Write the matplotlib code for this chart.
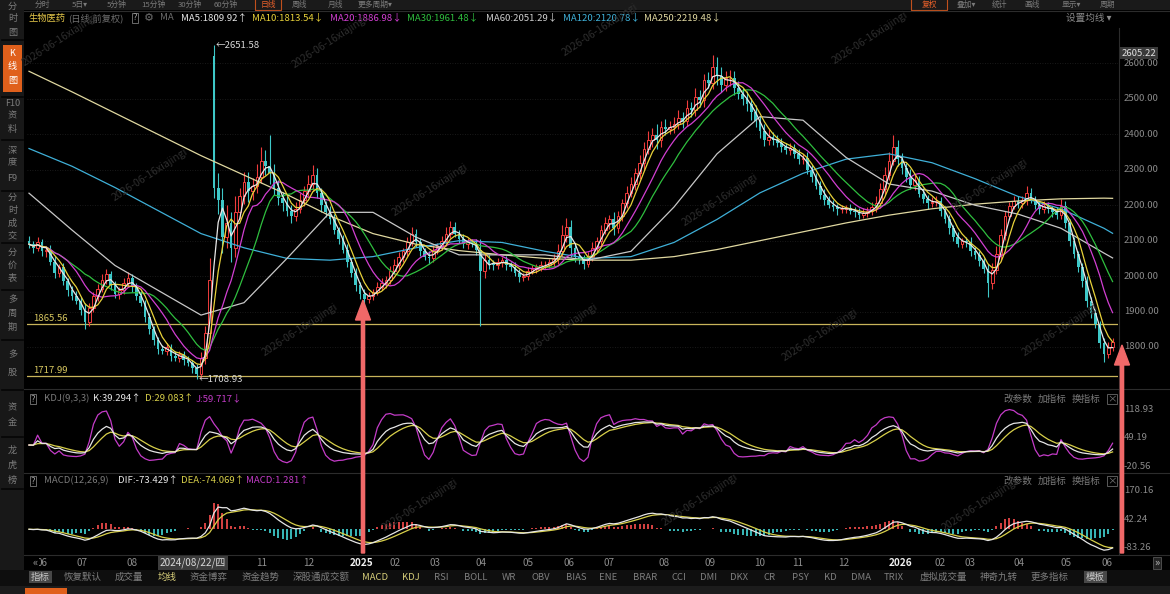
"""Daily K-line chart of the 生物医药 index, dark trading-terminal look.

Price bars, moving averages, KDJ and MACD panes, plus the terminal chrome
(side buttons, toolbar, indicator tabs). Saved as out.png (1170x594).
"""
import numpy as np
import pandas as pd
import matplotlib
matplotlib.use("Agg")
import matplotlib.pyplot as plt
import matplotlib.patches as mpatches
from matplotlib.lines import Line2D
from matplotlib.transforms import IdentityTransform

plt.rcParams['font.family'] = ['Noto Sans CJK SC', 'DejaVu Sans']

# ---------------------------------------------------------------- data --- #
# one bar = about two trading days, Jun 2024 .. Jun 2026
CLOSE = [
    2090, 2080, 2095, 2070, 2075, 2040, 2010, 2025, 1985, 1960,
    1945, 1930, 1905, 1870, 1910, 1945, 1965, 1990, 2005, 1975,
    1950, 1960, 1980, 1995, 1970, 1945, 1925, 1885, 1850, 1820,
    1795, 1790, 1800, 1775, 1770, 1780, 1762, 1755, 1740, 1725,
    1770, 1840, 1990, 2250, 2215, 2110, 2150, 2080, 2180, 2225,
    2265, 2240, 2255, 2280, 2325, 2310, 2290, 2250, 2220, 2205,
    2185, 2170, 2190, 2215, 2240, 2260, 2285, 2235, 2200, 2180,
    2160, 2130, 2105, 2075, 2040, 2010, 1975, 1950, 1935, 1945,
    1955, 1970, 1980, 1990, 2015, 2030, 2055, 2070, 2095, 2120,
    2095, 2070, 2055, 2050, 2075, 2085, 2100, 2120, 2140, 2120,
    2105, 2090, 2095, 2090, 2075, 2015, 2045, 2035, 2030, 2040,
    2045, 2030, 2025, 2010, 1998, 2000, 2015, 2020, 2025, 2030,
    2032, 2040, 2048, 2072, 2115, 2140, 2080, 2055, 2045, 2035,
    2055, 2080, 2100, 2130, 2150, 2160, 2135, 2170, 2205, 2235,
    2260, 2290, 2320, 2360, 2385, 2398, 2385, 2420, 2415, 2422,
    2430, 2445, 2438, 2475, 2468, 2505, 2498, 2553, 2545, 2590,
    2565, 2540, 2558, 2560, 2530, 2515, 2500, 2485, 2462, 2438,
    2410, 2385, 2392, 2385, 2375, 2365, 2355, 2362, 2345, 2330,
    2332, 2300, 2280, 2255, 2230, 2215, 2202, 2195, 2188, 2190,
    2192, 2185, 2182, 2172, 2178, 2183, 2195, 2205, 2245, 2285,
    2325, 2365, 2330, 2305, 2280, 2258, 2270, 2232, 2218, 2205,
    2210, 2212, 2185, 2160, 2135, 2110, 2092, 2098, 2095, 2072,
    2060, 2042, 2020, 1980, 2018, 2062, 2115, 2170, 2198, 2212,
    2205, 2215, 2235, 2215, 2200, 2188, 2198, 2190, 2182, 2172,
    2198, 2150, 2098, 2062, 2025, 1985, 1930, 1895, 1865, 1812,
    1780, 1800, 1815,
]
WICK_UP = [
    12, 8, 15, 10, 9, 14, 18, 10, 12, 9, 11, 14, 10, 20, 15, 9, 12, 16, 14, 10,
    12, 9, 15, 18, 11, 10, 13, 9, 12, 10, 8, 12, 10, 9, 14, 8, 10, 12, 9, 11,
    15, 20, 60, 0, 40, 35, 50, 30, 45, 25, 30, 28, 22, 35, 40, 30, 0, 25, 20, 18,
    22, 15, 18, 20, 14, 25, 0, 20, 15, 12, 18, 14, 10, 12, 15, 10, 12, 9, 14, 11,
    10, 12, 15, 9, 14, 18, 12, 10, 16, 20, 14, 12, 10, 15, 12, 9, 14, 18, 15, 12,
    10, 14, 12, 9, 15, 30, 20, 14, 10, 12, 9, 12, 10, 14, 11, 9, 12, 10, 8, 12,
    10, 9, 14, 20, 30, 25, 18, 12, 10, 14, 12, 15, 10, 14, 18, 12, 20, 15, 14, 18,
    20, 15, 22, 18, 25, 20, 30, 18, 22, 15, 20, 25, 18, 22, 15, 25, 20, 18, 22, 0,
    28, 25, 20, 22, 18, 20, 15, 22, 18, 20, 15, 18, 22, 14, 12, 16, 10, 14, 12, 15,
    12, 18, 14, 10, 12, 15, 10, 12, 9, 11, 10, 12, 9, 10, 14, 12, 15, 20, 18, 22,
    25, 0, 20, 18, 15, 22, 14, 12, 16, 10, 12, 15, 10, 14, 12, 9, 15, 10, 12, 14,
    10, 12, 9, 15, 20, 22, 18, 15, 12, 14, 15, 12, 0, 14, 10, 12, 15, 10, 9, 12,
    20, 14, 10, 12, 9, 11, 14, 10, 12, 9, 12, 14, 10,
]
WICK_DN = [
    10, 14, 9, 12, 15, 10, 14, 12, 9, 15, 12, 10, 15, 0, 12, 10, 14, 9, 12, 15,
    12, 14, 10, 9, 15, 12, 10, 14, 12, 15, 14, 10, 12, 15, 9, 12, 14, 10, 12, 0,
    12, 18, 15, 30, 40, 45, 30, 40, 25, 20, 22, 30, 25, 20, 18, 25, 30, 22, 18, 20,
    15, 20, 14, 12, 18, 15, 20, 14, 18, 12, 14, 12, 15, 10, 14, 12, 16, 14, 0, 10,
    12, 9, 10, 14, 12, 10, 9, 15, 12, 10, 14, 12, 10, 15, 9, 12, 10, 14, 12, 10,
    12, 10, 14, 9, 15, 0, 20, 15, 12, 10, 14, 12, 10, 9, 15, 12, 10, 9, 12, 10,
    9, 10, 12, 14, 15, 20, 25, 15, 12, 14, 10, 12, 14, 15, 12, 18, 20, 12, 15, 14,
    12, 18, 15, 20, 15, 22, 25, 20, 18, 15, 18, 15, 20, 14, 18, 15, 20, 22, 15, 18,
    25, 20, 18, 22, 20, 15, 18, 20, 22, 18, 20, 18, 14, 16, 12, 15, 10, 14, 12, 15,
    14, 12, 15, 10, 12, 14, 10, 12, 15, 9, 12, 10, 15, 12, 9, 12, 10, 14, 12, 15,
    14, 12, 20, 18, 15, 12, 14, 10, 12, 15, 10, 12, 14, 10, 15, 12, 10, 14, 12, 15,
    12, 14, 10, 0, 15, 12, 18, 14, 12, 10, 12, 14, 15, 10, 12, 14, 10, 12, 15, 10,
    12, 15, 14, 10, 12, 15, 18, 14, 12, 15, 0, 12, 10,
]
FIRST_OPEN = 2100
OPEN_FIX = {43: 2620}
HIGH_FIX = {43: 2651.58, 56: 2398, 66: 2313, 159: 2623, 201: 2398, 232: 2255}
LOW_FIX = {13: 1850, 39: 1708.93, 78: 1918, 105: 1860, 223: 1940, 250: 1758}

# slow averages, one value every 10 bars (+ last bar)
SLOW_IDX = list(range(0, 251, 10)) + [252]
MA60 = [2234, 2130, 2030, 1960, 1890, 1925, 2050, 2180, 2180, 2110, 2060,
        2060, 2060, 2045, 2070, 2195, 2345, 2450, 2440, 2335, 2260, 2240,
        2200, 2175, 2135, 2065, 2051.29]
MA120 = [2360, 2310, 2250, 2185, 2120, 2080, 2050, 2045, 2055, 2080, 2100,
         2095, 2070, 2050, 2055, 2095, 2160, 2235, 2290, 2330, 2345, 2320,
         2275, 2225, 2190, 2135, 2120.78]
MA250 = [2578, 2520, 2460, 2400, 2340, 2285, 2230, 2170, 2120, 2090, 2072,
         2060, 2050, 2045, 2045, 2055, 2075, 2100, 2125, 2150, 2172, 2190,
         2203, 2212, 2218, 2220, 2219.48]

MONTH_POS = [3.0, 12.3, 23.9, 54.2, 65.1, 77.4, 85.1, 94.4, 105.1, 116.0,
             125.6, 134.9, 147.7, 158.4, 170.0, 178.8, 189.5, 202.6, 211.9,
             218.8, 230.2, 241.2, 250.7]
MONTH_LBL = ["06", "07", "08", "11", "12", "2025", "02", "03", "04", "05",
             "06", "07", "08", "09", "10", "11", "12", "2026", "02", "03",
             "04", "05", "06"]

PRICE_TICKS = [1800, 1900, 2000, 2100, 2200, 2300, 2400, 2500, 2600]
KDJ_TICKS = [118.93, 49.19, -20.56]
MACD_TICKS = [170.16, 42.24, -83.26]
SUPPORT = [1865.56, 1717.99]

LEGEND = [("MA5:1809.92↑", "#e8e8e8"), ("MA10:1813.54↓", "#e8d23a"),
          ("MA20:1886.98↓", "#d23fd2"), ("MA30:1961.48↓", "#2fbf3f"),
          ("MA60:2051.29↓", "#d0d0d0"), ("MA120:2120.78↓", "#3fb0d8"),
          ("MA250:2219.48↓", "#e0d8a0")]
TABS = ["指标", "恢复默认", "成交量", "均线", "资金博弈", "资金趋势", "深股通成交额",
        "MACD", "KDJ", "RSI", "BOLL", "WR", "OBV", "BIAS", "ENE", "BRAR", "CCI",
        "DMI", "DKX", "CR", "PSY", "KD", "DMA", "TRIX", "虚拟成交量", "神奇九转",
        "更多指标", "模板"]
TAB_X = [31, 64, 115, 158, 190, 242, 293, 362, 402, 434, 464, 502, 532, 566,
         599, 633, 672, 700, 730, 764, 792, 824, 851, 884, 920, 980, 1031, 1086]
SIDE = [("分时图", [6, 19, 32]), ("K线图", [53, 67, 80]), ("F10资料", [103, 116, 129]),
        ("深度F9", [150, 163, 178]), ("分时成交", [197, 210, 223, 236]),
        ("分价表", [252, 265, 278]), ("多周期", [300, 313, 327]),
        ("多股", [355, 372]), ("资金", [408, 423]), ("龙虎榜", [450, 465, 480])]
TOP_TABS = [("分时", 42), ("5日▾", 80), ("5分钟", 117), ("15分钟", 153), ("30分钟", 190),
            ("60分钟", 226), ("日线", 268), ("周线", 300), ("月线", 335), ("更多周期▾", 375),
            ("复权", 929), ("叠加▾", 966), ("统计", 999), ("画线", 1032), ("显示▾", 1071),
            ("周期", 1108)]

# ------------------------------------------------------------- derived --- #
c = np.array(CLOSE, dtype=float)
n = len(c)
idx = np.arange(n)
o = np.r_[FIRST_OPEN, c[:-1]]
for k, v in OPEN_FIX.items():
    o[k] = v
hi = np.maximum(o, c) + np.array(WICK_UP)
lo = np.minimum(o, c) - np.array(WICK_DN)
for k, v in HIGH_FIX.items():
    hi[k] = v
for k, v in LOW_FIX.items():
    lo[k] = v

cs = pd.Series(c)
ma_fast = {  # windows in bars (a bar is ~2 sessions)
    "ma5": (cs.rolling(3, min_periods=1).mean(), "#e8e8e8"),
    "ma10": (cs.rolling(5, min_periods=1).mean(), "#e8d23a"),
    "ma20": (cs.rolling(10, min_periods=1).mean(), "#d23fd2"),
    "ma30": (cs.rolling(15, min_periods=1).mean(), "#2fbf3f"),
}

llv = pd.Series(lo).rolling(5, min_periods=1).min()
hhv = pd.Series(hi).rolling(5, min_periods=1).max()
rsv = (cs - llv) / (hhv - llv) * 100
K = rsv.ewm(alpha=1 / 3, adjust=False).mean()
D = K.ewm(alpha=1 / 3, adjust=False).mean()
J = 3 * K - 2 * D

dif = cs.ewm(span=6, adjust=False).mean() - cs.ewm(span=13, adjust=False).mean()
dea = dif.ewm(span=5, adjust=False).mean()
hist = 2 * (dif - dea)

# -------------------------------------------------------------- figure --- #
W, H = 1170, 594
fig = plt.figure(figsize=(W / 100, H / 100), dpi=100, facecolor="black")

GREY = "#8a8a8a"
RED = "#f03c3c"
CYAN = "#3ec8c8"
FS = 6.9


def frac_rect(x0, y0, x1, y1):
    return [x0 / W, 1 - y1 / H, (x1 - x0) / W, (y1 - y0) / H]


def txt(x, y, s, color=GREY, size=FS, ha="left", va="center", **kw):
    return fig.text(x / W, 1 - y / H, s, color=color, fontsize=size,
                    ha=ha, va=va, **kw)


def box(x0, y0, x1, y1, fc, ec="none", lw=0.8, z=0):
    fig.add_artist(mpatches.Rectangle((x0 / W, 1 - y1 / H), (x1 - x0) / W,
                                      (y1 - y0) / H, transform=fig.transFigure,
                                      facecolor=fc, edgecolor=ec, lw=lw, zorder=z))


def fline(xs, ys, color="#2c2c2c", lw=0.8):
    fig.add_artist(Line2D([x / W for x in xs], [1 - y / H for y in ys],
                          transform=fig.transFigure, color=color, lw=lw))


XL = (-0.465, 253.26)
ax = fig.add_axes(frac_rect(27, 30, 1118, 387))
ax_k = fig.add_axes(frac_rect(27, 390, 1118, 470))
ax_m = fig.add_axes(frac_rect(27, 474, 1118, 553))
for a in (ax, ax_k, ax_m):
    a.set_facecolor("none")
    a.set_xlim(*XL)
    a.set_yticks([])
    for s in a.spines.values():
        s.set_visible(False)
ax.set_xticks([])
ax_k.set_xticks([])
ax.set_ylim(1687.1, 2694.5)
ax_k.set_ylim(-30.4, 167.1)
ax_m.set_ylim(-105.5, 245.7)

# --- main pane ------------------------------------------------------------ #
for p in PRICE_TICKS:
    ax.axhline(p, color="#222222", lw=0.6, ls=(0, (1, 2)), zorder=0)
for p in SUPPORT:
    ax.axhline(p, color="#c8b45a", lw=0.9, zorder=1)

up = c >= o
ax.vlines(idx[up], lo[up], hi[up], color=RED, lw=0.8, zorder=2)
ax.vlines(idx[~up], lo[~up], hi[~up], color=CYAN, lw=0.8, zorder=2)
ax.bar(idx[up], np.maximum(c - o, 1.5)[up], bottom=o[up], width=0.62,
       facecolor="black", edgecolor=RED, lw=0.7, zorder=3)
ax.bar(idx[~up], np.maximum(o - c, 1.5)[~up], bottom=c[~up], width=0.62,
       color=CYAN, lw=0, zorder=3)

ax.plot(SLOW_IDX, MA250, color="#e0d8a0", lw=0.9, zorder=4)
ax.plot(SLOW_IDX, MA120, color="#3fb0d8", lw=0.9, zorder=4)
ax.plot(SLOW_IDX, MA60, color="#c8c8c8", lw=0.9, zorder=4)
for key in ("ma30", "ma20", "ma10", "ma5"):
    s, col = ma_fast[key]
    ax.plot(idx, s, color=col, lw=0.9, zorder=4)

imax = int(np.argmax(hi))
imin = int(np.argmin(lo))
ax.text(imax + 0.4, hi[imax], f"←{hi[imax]:.2f}", color="#d8d8d8",
        fontsize=FS, va="center", zorder=6)
ax.text(imin + 0.4, lo[imin], f"←{lo[imin]:.2f}", color="#d8d8d8",
        fontsize=FS, va="center", zorder=6)

yax = ax.get_yaxis_transform()
for p in PRICE_TICKS:
    ax.text(1.0055, p, f"{p:.2f}", transform=yax, color=GREY, fontsize=FS,
            va="center", clip_on=False)
for p in SUPPORT:
    ax.text(0.006, p + 16, f"{p:.2f}", transform=yax, color="#d8c860",
            fontsize=FS, va="center")
txt(1122, 53, "2605.22", color="#e0e0e0",
    bbox=dict(facecolor="#3a3a3a", edgecolor="none", pad=1.2))

# --- KDJ pane -------------------------------------------------------------- #
ax_k.plot(idx, J, color="#c43cc8", lw=0.9)
ax_k.plot(idx, D, color="#d8d04a", lw=0.9)
ax_k.plot(idx, K, color="#e6e6e6", lw=0.9)
yk = ax_k.get_yaxis_transform()
for v in KDJ_TICKS:
    ax_k.text(1.0055, v, f"{v:.2f}", transform=yk, color=GREY, fontsize=FS,
              va="center", clip_on=False)

# --- MACD pane ------------------------------------------------------------- #
pos = hist >= 0
ax_m.vlines(idx[pos], 0, hist[pos], color="#e84848", lw=1.3)
ax_m.vlines(idx[~pos], 0, hist[~pos], color=CYAN, lw=1.3)
ax_m.plot(idx, dea, color="#d8d04a", lw=0.9)
ax_m.plot(idx, dif, color="#e6e6e6", lw=0.9)
ym = ax_m.get_yaxis_transform()
for v in MACD_TICKS:
    ax_m.text(1.0055, v, f"{v:.2f}", transform=ym, color=GREY, fontsize=FS,
              va="center", clip_on=False)

ax_m.set_xticks(MONTH_POS, MONTH_LBL)
ax_m.tick_params(axis="x", length=0, pad=3.6, labelsize=7.2, labelcolor="#8c8c8c")
for lab in ax_m.get_xticklabels():
    if len(lab.get_text()) == 4:
        lab.set_color("#f0f0f0")
        lab.set_fontweight("bold")

# --- chrome ---------------------------------------------------------------- #
box(0, 0, 24, 594, "#181818", z=-1)
box(0, 0, 1170, 10, "#1a1a1a", z=-1)
box(0, 570, 1170, 586, "#0e0e0e", z=-1)
box(0, 586, 1170, 594, "#1c1c1c", z=-1)
box(25, 588, 67, 594, "#e0601c", z=-1)
box(3, 45, 22, 92, "#e0601c", z=0)
for y in (40, 97, 140, 191, 243, 290, 340, 390, 437, 489):
    fline([2, 23], [y, y], color="#050505", lw=1.2)
for label, ys in SIDE:
    chars = ["F10", "资", "料"] if label == "F10资料" else (
        ["深", "度", "F9"] if label == "深度F9" else list(label))
    col = "#ffffff" if label == "K线图" else "#7c7c7c"
    for ch, y in zip(chars, ys):
        txt(12.5, y, ch, color=col, size=6.6, ha="center")

for label, x in TOP_TABS:
    col = "#e8602a" if label in ("日线", "复权") else "#7a7a7a"
    txt(x, 5, label, color=col, size=5.6, ha="center")
box(255, -2, 281, 10, "none", ec="#c0501c", lw=0.8, z=1)
box(911, -2, 947, 10, "none", ec="#c0501c", lw=0.8, z=1)

for y in (10.5, 388.5, 472.5, 555):
    fline([24, 1170], [y, y])
fline([1118.5, 1118.5], [28, 555])

# legend row
txt(29, 18, "生物医药", color="#e6c84a", size=6.7)
txt(68, 18, "(日线,前复权)", color="#6e6e6e", size=6.7)
txt(135, 18, "?", color="#9a9a9a", ha="center",
    bbox=dict(facecolor="none", edgecolor="#6a6a6a", pad=0.6, lw=0.7))
txt(149, 18, "⚙", color="#6e6e6e", ha="center", size=8)
txt(160, 18, "MA", color="#6e6e6e")
for (label, col), x in zip(LEGEND, [181, 252, 330, 407, 486, 563, 644]):
    txt(x, 18, label, color=col)
txt(1066, 18, "设置均线 ▾", color="#8a8a8a")

# indicator headers
for y, parts in (
        (399, [("KDJ(9,3,3)", 44, "#7a7a7a"), ("K:39.294↑", 93, "#e8e8e8"),
               ("D:29.083↑", 145, "#d8d04a"), ("J:59.717↓", 196, "#c43cc8")]),
        (481, [("MACD(12,26,9)", 44, "#7a7a7a"), ("DIF:-73.429↑", 118, "#e8e8e8"),
               ("DEA:-74.069↑", 181, "#d8d04a"), ("MACD:1.281↑", 246, "#c43cc8")])):
    txt(33, y, "?", color="#9a9a9a", ha="center",
        bbox=dict(facecolor="none", edgecolor="#6a6a6a", pad=0.6, lw=0.7))
    for label, x, col in parts:
        txt(x, y, label, color=col)
    for label, x in (("改参数", 1003), ("加指标", 1038), ("换指标", 1072)):
        txt(x, y, label, color="#7a7a7a")
    txt(1112, y, "×", color="#7a7a7a", ha="center",
        bbox=dict(facecolor="none", edgecolor="#5a5a5a", pad=0.5, lw=0.7))

# x-axis extras: scroll buttons and cursor date
txt(35, 563, "«", color="#9a9a9a", size=8, ha="center",
    bbox=dict(facecolor="black", edgecolor="none", pad=1.0))
txt(1157, 563, "»", color="#bbbbbb", size=8, ha="center",
    bbox=dict(facecolor="#222222", edgecolor="#555555", pad=0.8, lw=0.6))
txt(160, 563, "2024/08/22/四", color="#d8d8d8", size=7.2,
    bbox=dict(facecolor="#3c3c3c", edgecolor="none", pad=1.2))

# indicator tabs
for label, x in zip(TABS, TAB_X):
    col = "#7e7e7e"
    kw = {}
    if label in ("均线", "MACD", "KDJ"):
        col = "#d8cf7a"
    if label in ("指标", "模板"):
        col = "#c8c8c8"
        kw["bbox"] = dict(facecolor="#484848", edgecolor="none", pad=1.3)
    txt(x, 577, label, color=col, size=6.8, **kw)

# watermark
for x, y in ((60, 40), (330, 42), (600, 30), (870, 38), (150, 175), (430, 190),
             (720, 200), (990, 185), (300, 330), (560, 330), (820, 335),
             (1060, 330), (420, 505), (700, 500), (980, 505)):
    txt(x, y, "2026-06-16xiajingi", color="#2e2e2e", size=7.5, ha="center",
        rotation=33)

# the two red arrows
for x, tip in ((363, 300), (1122, 345)):
    fig.add_artist(mpatches.FancyArrow(
        x, H - 553, 0, 553 - tip, width=3.2, head_width=15, head_length=20,
        length_includes_head=True, color="#f06868", transform=IdentityTransform(),
        zorder=10))

fig.savefig("out.png", dpi=100, facecolor="black")
